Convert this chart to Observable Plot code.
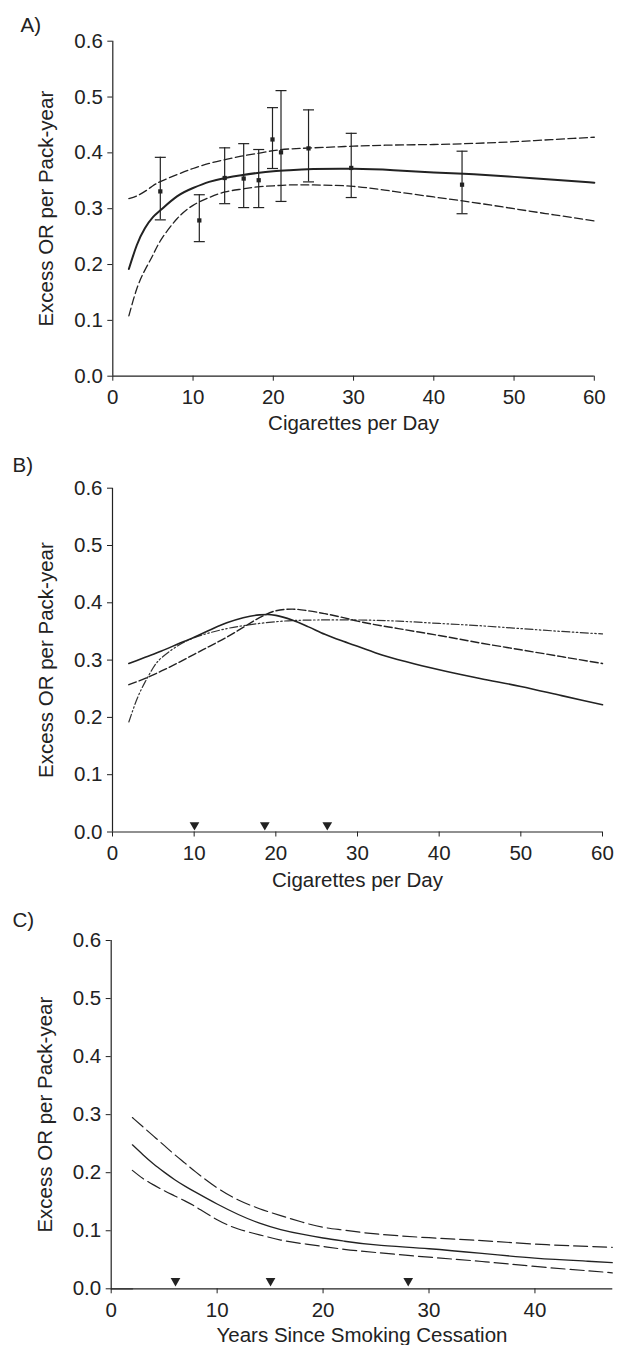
<!DOCTYPE html>
<html><head><meta charset="utf-8">
<script src="https://cdn.jsdelivr.net/npm/d3@7"></script>
<script src="https://cdn.jsdelivr.net/npm/@observablehq/plot@0.6"></script>
<style>body{margin:0;background:#fff;} svg{display:block;}</style>
</head><body><div id="chart"></div>
<script>
// ---- tick labels ----
const ticksY = [0, 0.1, 0.2, 0.3, 0.4, 0.5, 0.6];
const ticksCig = [0, 10, 20, 30, 40, 50, 60];
const ticksYears = [0, 10, 20, 30, 40];

// ---- Panel A: fitted curve with 95% CI and category estimates ----
const cigA =   [2, 3, 4, 5, 6, 8, 10, 12, 14, 16, 18, 20, 22, 25, 30, 35, 40, 45, 50, 55, 60];
const fitA =   [0.192, 0.235, 0.265, 0.285, 0.298, 0.322, 0.337, 0.348, 0.355, 0.360, 0.364, 0.367, 0.369, 0.371, 0.3715, 0.369, 0.365, 0.3615, 0.357, 0.352, 0.3466];
const upperA = [0.318, 0.323, 0.331, 0.341, 0.349, 0.361, 0.372, 0.381, 0.388, 0.394, 0.399, 0.404, 0.407, 0.409, 0.412, 0.414, 0.415, 0.417, 0.420, 0.424, 0.428];
const lowerA = [0.108, 0.157, 0.190, 0.217, 0.244, 0.282, 0.306, 0.320, 0.330, 0.335, 0.339, 0.341, 0.3425, 0.3425, 0.340, 0.331, 0.321, 0.311, 0.300, 0.289, 0.278];

const ptX =  [5.92, 10.78, 13.94, 16.31, 18.18, 19.9, 20.96, 24.39, 29.71, 43.52];
const ptY =  [0.331, 0.279, 0.355, 0.354, 0.351, 0.424, 0.401, 0.408, 0.373, 0.343];
const ptLo = [0.280, 0.241, 0.309, 0.302, 0.302, 0.372, 0.313, 0.348, 0.320, 0.291];
const ptHi = [0.392, 0.325, 0.409, 0.4165, 0.406, 0.481, 0.5115, 0.477, 0.435, 0.403];

// ---- Panel B: alternative models ----
const cigB1 =  [2, 4, 6, 8, 10, 12, 14, 16, 18, 19, 20, 22, 24, 26, 28, 30, 33, 36, 40, 45, 50, 55, 60];
const solidB = [0.294, 0.305, 0.316, 0.328, 0.340, 0.353, 0.365, 0.374, 0.379, 0.3795, 0.378, 0.370, 0.358, 0.345, 0.334, 0.324, 0.309, 0.297, 0.283, 0.268, 0.254, 0.238, 0.222];
const cigB2 =  [2, 4, 6, 8, 10, 12, 14, 16, 18, 20, 22, 24, 26, 28, 30, 35, 40, 45, 50, 55, 60];
const dashB =  [0.257, 0.268, 0.281, 0.295, 0.310, 0.325, 0.340, 0.357, 0.374, 0.386, 0.389, 0.386, 0.381, 0.375, 0.368, 0.355, 0.343, 0.330, 0.318, 0.306, 0.294];
const cigB3 =  [2, 3, 4, 5, 6, 8, 10, 12, 14, 16, 18, 20, 22, 25, 30, 35, 40, 45, 50, 55, 60];
const dotB =   [0.192, 0.232, 0.262, 0.287, 0.304, 0.325, 0.339, 0.348, 0.355, 0.360, 0.364, 0.367, 0.369, 0.370, 0.370, 0.368, 0.364, 0.360, 0.355, 0.350, 0.3457];
const knotsB = [10.04, 18.65, 26.3];

// ---- Panel C: years since cessation ----
const yrsC =   [2, 3, 4, 5, 6, 7, 8, 10, 12, 14, 16, 18, 20, 22, 25, 30, 35, 40, 45, 47.3];
const fitC =   [0.248, 0.231, 0.215, 0.201, 0.188, 0.1765, 0.166, 0.146, 0.128, 0.113, 0.102, 0.094, 0.0875, 0.082, 0.0755, 0.069, 0.061, 0.053, 0.0475, 0.045];
const upperC = [0.295, 0.279, 0.263, 0.247, 0.231, 0.216, 0.201, 0.174, 0.153, 0.138, 0.126, 0.115, 0.106, 0.101, 0.0945, 0.088, 0.083, 0.077, 0.073, 0.0715];
const lowerC = [0.204, 0.190, 0.179, 0.169, 0.160, 0.151, 0.141, 0.119, 0.103, 0.093, 0.084, 0.078, 0.073, 0.068, 0.0625, 0.0545, 0.047, 0.0385, 0.031, 0.0275];
const knotsC = [6.07, 15.04, 28.04];

const INK = "#222";
const FONT = "Liberation Sans, Arial, Helvetica, sans-serif";
const FS = 20.5;

const toRows = (xs, ys) => xs.map((x, i) => ({x, y: ys[i]}));
const capSymbol = {draw(ctx, size) { const r = Math.sqrt(size / Math.PI); ctx.moveTo(-r, 0); ctx.lineTo(r, 0); }};

function frameMarks(cfg) {
  return [
    Plot.axisY(ticksY, {tickSize: 5, tickPadding: 5, tickFormat: d => d.toFixed(1), label: null, stroke: INK, fill: INK}),
    Plot.axisX(cfg.xticks, {tickSize: 5, tickPadding: 8.5, label: null, stroke: INK, fill: INK}),
    Plot.ruleX([0], {stroke: INK, strokeWidth: 1.2}),
    Plot.ruleY([0], {stroke: INK, strokeWidth: 1.2}),
    Plot.text([cfg.tag], {frameAnchor: "top-left", dx: cfg.tagDx, dy: cfg.tagDy, textAnchor: "start", lineAnchor: "middle", fill: INK, fontSize: FS}),
    Plot.text(["Excess OR per Pack-year"], {frameAnchor: "left", dx: -66, rotate: -90, textAnchor: "middle", lineAnchor: "middle", fill: INK, fontSize: FS}),
    Plot.text([cfg.xtitle], {frameAnchor: "bottom", dy: cfg.xtitleDy, textAnchor: "middle", lineAnchor: "middle", fill: INK, fontSize: FS})
  ];
}

function makePlot(cfg, marks) {
  return Plot.plot({
    width: 617, height: cfg.height,
    marginTop: cfg.mt, marginBottom: cfg.mb, marginLeft: cfg.ml, marginRight: cfg.mr,
    x: {domain: cfg.xdomain},
    y: {domain: [0, 0.6]},
    style: {fontFamily: FONT, fontSize: FS + "px", color: INK, background: "#fff", overflow: "visible"},
    marks: [...marks, ...frameMarks(cfg)]
  });
}

const root = document.getElementById("chart");

// Panel A
const cfgA = {height: 440, mt: 40.7, mb: 64.3, ml: 112.3, mr: 23.2, xdomain: [0, 60], xticks: ticksCig,
  tag: "A)", tagDx: -92.3, tagDy: -15.7, xtitle: "Cigarettes per Day", xtitleDy: 47.6};
const pts = ptX.map((x, i) => ({x, y: ptY[i], lo: ptLo[i], hi: ptHi[i]}));
root.append(makePlot(cfgA, [
  Plot.line(toRows(cigA, upperA), {x: "x", y: "y", curve: "natural", stroke: INK, strokeWidth: 1.3, strokeDasharray: "8,3.5"}),
  Plot.line(toRows(cigA, lowerA), {x: "x", y: "y", curve: "natural", stroke: INK, strokeWidth: 1.3, strokeDasharray: "8,3.5"}),
  Plot.line(toRows(cigA, fitA), {x: "x", y: "y", curve: "natural", stroke: INK, strokeWidth: 2}),
  Plot.ruleX(pts, {x: "x", y1: "lo", y2: "hi", stroke: INK, strokeWidth: 1.2}),
  Plot.dot(pts, {x: "x", y: "lo", symbol: capSymbol, r: 5.5, stroke: INK, strokeWidth: 1.2}),
  Plot.dot(pts, {x: "x", y: "hi", symbol: capSymbol, r: 5.5, stroke: INK, strokeWidth: 1.2}),
  Plot.dot(pts, {x: "x", y: "y", symbol: "square", r: 2.4, fill: INK, stroke: "none"})
]));

// Panel B
const cfgB = {height: 455, mt: 47.7, mb: 63.5, ml: 112, mr: 15, xdomain: [0, 60], xticks: ticksCig,
  tag: "B)", tagDx: -100, tagDy: -22.7, xtitle: "Cigarettes per Day", xtitleDy: 48.5};
root.append(makePlot(cfgB, [
  Plot.line(toRows(cigB3, dotB), {x: "x", y: "y", curve: "natural", stroke: "#333", strokeWidth: 1.2, strokeDasharray: "8,2.5,1.5,2.5,1.5,2.5"}),
  Plot.line(toRows(cigB2, dashB), {x: "x", y: "y", curve: "monotone-x", stroke: INK, strokeWidth: 1.4, strokeDasharray: "8,3"}),
  Plot.line(toRows(cigB1, solidB), {x: "x", y: "y", curve: "monotone-x", stroke: INK, strokeWidth: 1.6}),
  Plot.dot(knotsB, {x: d => d, y: 0, dy: -7, symbol: "triangle", rotate: 180, r: 3.6, fill: INK, stroke: "none"})
]));

// Panel C
const cfgC = {height: 450, mt: 45, mb: 56.7, ml: 110.7, mr: 4.7, xdomain: [0, 47.35], xticks: ticksYears,
  tag: "C)", tagDx: -98.7, tagDy: -20, xtitle: "Years Since Smoking Cessation", xtitleDy: 46.7};
root.append(makePlot(cfgC, [
  Plot.lineY([0, 0], {x: [0, 2], stroke: "#888", strokeWidth: 1.8}),
  Plot.line(toRows(yrsC, upperC), {x: "x", y: "y", curve: "natural", stroke: INK, strokeWidth: 1.2, strokeDasharray: "14,5"}),
  Plot.line(toRows(yrsC, lowerC), {x: "x", y: "y", curve: "natural", stroke: INK, strokeWidth: 1.2, strokeDasharray: "14,5"}),
  Plot.line(toRows(yrsC, fitC), {x: "x", y: "y", curve: "natural", stroke: INK, strokeWidth: 1.3}),
  Plot.dot(knotsC, {x: d => d, y: 0, dy: -8, symbol: "triangle", rotate: 180, r: 3.6, fill: INK, stroke: "none"})
]));
</script></body></html>
